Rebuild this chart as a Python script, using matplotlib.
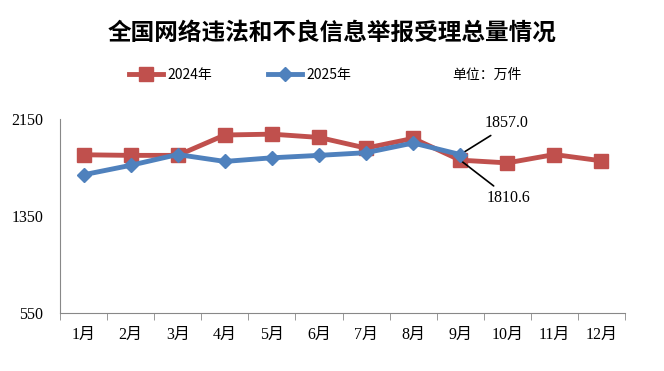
import matplotlib
matplotlib.use("Agg")
import matplotlib.pyplot as plt
import numpy as np

months = ["1月", "2月", "3月", "4月", "5月", "6月", "7月", "8月", "9月", "10月", "11月", "12月"]
v2024 = [1855, 1850, 1850, 2018, 2025, 1998, 1910, 1990, 1810.6, 1788, 1857, 1805]
v2025 = [1690, 1768, 1857, 1800, 1830, 1850, 1872, 1952, 1857.0]
yticks = [550, 1350, 2150]

cjk = ["Noto Sans CJK SC", "DejaVu Sans"]
serif = ["Liberation Serif", "Noto Sans CJK SC"]

fig = plt.figure(figsize=(6.64, 3.71), dpi=100)
ax = fig.add_axes([60/664, 58/371, 565/664, 194/371])

x24 = np.arange(len(v2024))
x25 = np.arange(len(v2025))
red = "#C0504D"
blue = "#4F81BD"
ax.plot(x24, v2024, color=red, lw=3.5, marker="s", ms=10, mec=red, mfc=red, zorder=3, label="2024年")
ax.plot(x25, v2025, color=blue, lw=3.5, marker="D", ms=7, mec=blue, mfc=blue, zorder=4, label="2025年")

ax.set_xlim(-0.5, 11.5)
ax.set_ylim(550, 2150)
ax.set_yticks(yticks)
ax.set_yticklabels([str(t) for t in yticks], fontfamily=serif, fontsize=11.5)
ax.set_xticks(np.arange(12))
ax.set_xticklabels(months, fontfamily=serif, fontsize=11.5)
ax.set_xticks(np.arange(-0.5, 12, 1), minor=True)
ax.tick_params(axis="x", which="major", length=0, pad=10)
ax.tick_params(axis="x", which="minor", length=5, color="#888888")
ax.tick_params(axis="y", length=0, pad=12)
for s in ["top", "right"]:
    ax.spines[s].set_visible(False)
for s in ["left", "bottom"]:
    ax.spines[s].set_color("#888888")

# annotations
ax.annotate("1857.0", xy=(x25[8], v2025[8]), xytext=(8.98, 2115), fontsize=11.5,
            fontfamily=serif, ha="center", va="center",
            arrowprops=dict(arrowstyle="-", color="black", lw=1.2, shrinkA=2, shrinkB=0,
                            relpos=(0.3, 0.0)))
ax.annotate("1810.6", xy=(x24[8], v2024[8]), xytext=(9.02, 1495), fontsize=11.5,
            fontfamily=serif, ha="center", va="center",
            arrowprops=dict(arrowstyle="-", color="black", lw=1.2, shrinkA=2, shrinkB=0,
                            relpos=(0.3, 1.0)))

fig.text(0.5, 338/371, "全国网络违法和不良信息举报受理总量情况", ha="center", va="center",
         fontsize=17, fontweight="bold", fontfamily=cjk)

leg = fig.legend(loc="center", bbox_to_anchor=(240/664, 296/371), ncol=2, frameon=False,
                 prop={"family": cjk, "size": 10}, handlelength=2.5, columnspacing=4,
                 handletextpad=0.3)
fig.text(452/664, 296/371, "单位：万件", ha="left", va="center", fontsize=10, fontfamily=cjk)

fig.savefig("out.png", dpi=100)
